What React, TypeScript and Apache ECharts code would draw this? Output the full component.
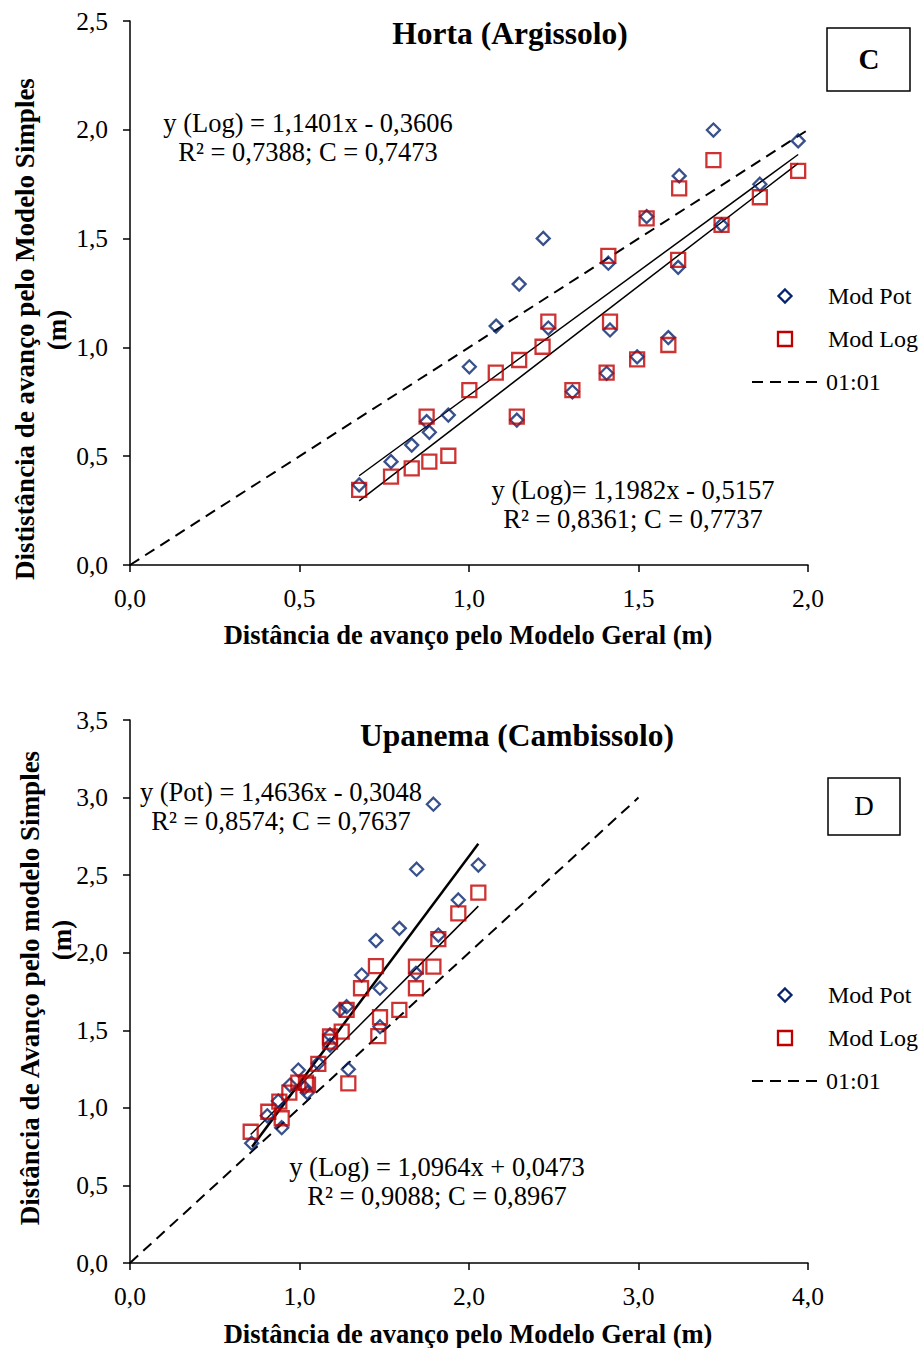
import React, { useEffect, useRef } from "react";
import * as echarts from "echarts";

// ---------- Top chart: Horta (Argissolo) ----------
const topPotX = [0.676, 0.770, 0.831, 0.875, 0.883, 0.939, 1.001, 1.080, 1.148, 1.219, 1.234, 1.141, 1.305, 1.406, 1.411, 1.416, 1.496, 1.524, 1.588, 1.617, 1.620, 1.721, 1.745, 1.858, 1.971];
const topPotY = [0.368, 0.475, 0.551, 0.659, 0.610, 0.689, 0.911, 1.098, 1.291, 1.501, 1.089, 0.666, 0.796, 0.881, 1.387, 1.080, 0.957, 1.601, 1.045, 1.368, 1.788, 1.999, 1.563, 1.750, 1.949];
const topLogX = [0.676, 0.770, 0.831, 0.883, 0.875, 0.939, 1.001, 1.079, 1.141, 1.148, 1.217, 1.234, 1.305, 1.406, 1.411, 1.416, 1.496, 1.524, 1.588, 1.617, 1.620, 1.721, 1.745, 1.858, 1.971];
const topLogY = [0.345, 0.406, 0.444, 0.475, 0.682, 0.502, 0.804, 0.884, 0.682, 0.942, 1.003, 1.118, 0.804, 0.884, 1.421, 1.118, 0.945, 1.593, 1.011, 1.402, 1.731, 1.861, 1.563, 1.690, 1.811];
const topFitA = [1.1401, 1.1982];
const topFitB = [-0.3606, -0.5157];
const topFitRange = [0.676, 1.971];
const topOneToOne = [0, 2];

// ---------- Bottom chart: Upanema (Cambissolo) ----------
const botPotX = [0.718, 0.810, 0.875, 0.895, 0.944, 0.993, 1.046, 1.030, 1.111, 1.180, 1.180, 1.239, 1.278, 1.288, 1.367, 1.451, 1.475, 1.475, 1.589, 1.687, 1.691, 1.790, 1.819, 1.937, 2.055];
const botPotY = [0.772, 0.949, 1.044, 0.872, 1.147, 1.244, 1.098, 1.130, 1.287, 1.405, 1.470, 1.631, 1.652, 1.249, 1.856, 2.078, 1.771, 1.523, 2.157, 1.867, 2.538, 2.957, 2.114, 2.340, 2.565];
const botLogX = [0.712, 0.816, 0.881, 0.895, 0.940, 0.993, 1.038, 1.050, 1.111, 1.180, 1.180, 1.249, 1.288, 1.278, 1.363, 1.451, 1.465, 1.475, 1.589, 1.687, 1.687, 1.790, 1.819, 1.937, 2.055];
const botLogY = [0.846, 0.975, 1.040, 0.933, 1.098, 1.162, 1.162, 1.150, 1.283, 1.427, 1.460, 1.491, 1.158, 1.631, 1.771, 1.914, 1.463, 1.584, 1.631, 1.910, 1.771, 1.910, 2.087, 2.254, 2.387];
const botFitA = [1.4636, 1.0964];
const botFitB = [-0.3048, 0.0473];
const botFitStart = [0.72, 0.712];
const botFitEnd = [2.055, 2.055];
const botOneToOne = [0, 3];

const SERIF = "'Liberation Serif', 'Times New Roman', serif";
const NAVY = "#06246e";
const RED = "#c00000";

const fmt = (v: number) => v.toFixed(1).replace(".", ",");
const zip = (xs: number[], ys: number[]) => xs.map((x, i) => [x, ys[i]]);
const fitLine = (a: number, b: number, x0: number, x1: number) => [
  [x0, a * x0 + b],
  [x1, a * x1 + b],
];

function xAxisCfg(grid: number, max: number, interval: number) {
  return {
    type: "value",
    gridIndex: grid,
    min: 0,
    max,
    interval,
    axisLine: { show: true, onZero: false, lineStyle: { color: "#000", width: 1.5 } },
    axisTick: { show: true, length: 7, lineStyle: { color: "#000", width: 1.5 } },
    axisLabel: { formatter: fmt, color: "#000", fontFamily: SERIF, fontSize: 25.5, margin: 20 },
    splitLine: { show: false },
  };
}
function yAxisCfg(grid: number, max: number, interval: number) {
  return {
    type: "value",
    gridIndex: grid,
    min: 0,
    max,
    interval,
    axisLine: { show: true, onZero: false, lineStyle: { color: "#000", width: 1.5 } },
    axisTick: { show: true, length: 7, lineStyle: { color: "#000", width: 1.5 } },
    axisLabel: { formatter: fmt, color: "#000", fontFamily: SERIF, fontSize: 25.5, margin: 22 },
    splitLine: { show: false },
  };
}

function scatter(data: number[][], idx: number, kind: "pot" | "log") {
  return {
    type: "scatter",
    xAxisIndex: idx,
    yAxisIndex: idx,
    data,
    symbol: kind === "pot" ? "diamond" : "rect",
    symbolSize: kind === "pot" ? 13 : 14,
    itemStyle: {
      color: "rgba(0,0,0,0)",
      borderColor: kind === "pot" ? NAVY : RED,
      borderWidth: 2.3,
    },
    z: 3,
  };
}
function line(data: number[][], idx: number, dashed: boolean, width = 1.5) {
  return {
    type: "line",
    xAxisIndex: idx,
    yAxisIndex: idx,
    data,
    showSymbol: false,
    symbol: "none",
    lineStyle: { color: "#000", width, type: dashed ? [11, 7] : "solid" },
    z: 2,
  };
}

function text(x: number, y: number, t: string, size: number, bold = false, align = "center", rotation = 0) {
  return {
    type: "text",
    x,
    y,
    rotation,
    style: {
      text: t,
      font: `${bold ? "bold " : ""}${size}px ${SERIF}`,
      fill: "#000",
      textAlign: align,
      textVerticalAlign: "middle",
    },
    z: 10,
  };
}

function legend(x: number, y: number) {
  return [
    {
      type: "polygon",
      shape: { points: [[x, y - 6.5], [x + 6.5, y], [x, y + 6.5], [x - 6.5, y]] },
      style: { fill: "none", stroke: NAVY, lineWidth: 2.3 },
    },
    text(x + 43, y, "Mod Pot", 24, false, "left"),
    {
      type: "rect",
      shape: { x: x - 7, y: y + 43 - 7, width: 14, height: 14 },
      style: { fill: "none", stroke: RED, lineWidth: 2.3 },
    },
    text(x + 43, y + 43, "Mod Log", 24, false, "left"),
    {
      type: "line",
      shape: { x1: x - 33, y1: y + 86, x2: x + 33, y2: y + 86 },
      style: { stroke: "#000", lineWidth: 2, lineDash: [11, 7] },
    },
    text(x + 41, y + 86, "01:01", 24, false, "left"),
  ];
}

export default function App() {
  const ref = useRef<HTMLDivElement>(null);
  useEffect(() => {
    if (!ref.current) return;
    const chart = echarts.init(ref.current, undefined, { renderer: "svg" });
    const option = {
      animation: false,
      backgroundColor: "#fff",
      grid: [
        { left: 130, top: 21, width: 678, height: 544 },
        { left: 130, top: 720, width: 678, height: 543 },
      ],
      xAxis: [xAxisCfg(0, 2, 0.5), xAxisCfg(1, 4, 1)],
      yAxis: [yAxisCfg(0, 2.5, 0.5), yAxisCfg(1, 3.5, 0.5)],
      series: [
        line(zip(topOneToOne, topOneToOne), 0, true, 2),
        line(fitLine(topFitA[0], topFitB[0], topFitRange[0], topFitRange[1]), 0, false),
        line(fitLine(topFitA[1], topFitB[1], topFitRange[0], topFitRange[1]), 0, false),
        scatter(zip(topPotX, topPotY), 0, "pot"),
        scatter(zip(topLogX, topLogY), 0, "log"),
        line(zip(botOneToOne, botOneToOne), 1, true, 2),
        line(fitLine(botFitA[0], botFitB[0], botFitStart[0], botFitEnd[0]), 1, false, 2.5),
        line(fitLine(botFitA[1], botFitB[1], botFitStart[1], botFitEnd[1]), 1, false),
        scatter(zip(botPotX, botPotY), 1, "pot"),
        scatter(zip(botLogX, botLogY), 1, "log"),
      ],
      graphic: [
        // top chart
        text(510, 33, "Horta (Argissolo)", 31.5, true),
        { type: "rect", shape: { x: 827, y: 28, width: 83, height: 63 }, style: { fill: "#fff", stroke: "#000", lineWidth: 1.5 } },
        text(869, 59, "C", 29, true),
        text(308, 123, "y (Log) = 1,1401x - 0,3606", 26.5),
        text(308, 152, "R² = 0,7388; C = 0,7473", 26.5),
        text(633, 490, "y (Log)= 1,1982x - 0,5157", 26.5),
        text(633, 519, "R² = 0,8361; C = 0,7737", 26.5),
        text(468, 635, "Distância de avanço pelo Modelo Geral (m)", 26.5, true),
        text(25, 329, "Dististância de avanço pelo Modelo Simples", 27, true, "center", Math.PI / 2),
        text(57, 330, "(m)", 27, true, "center", Math.PI / 2),
        ...legend(785, 296),
        // bottom chart
        text(517, 735, "Upanema (Cambissolo)", 31.5, true),
        { type: "rect", shape: { x: 828, y: 778, width: 72, height: 57 }, style: { fill: "#fff", stroke: "#000", lineWidth: 1.5 } },
        text(864, 806, "D", 27),
        text(281, 792, "y (Pot) = 1,4636x - 0,3048", 26.5),
        text(281, 821, "R² = 0,8574; C = 0,7637", 26.5),
        text(437, 1167, "y (Log) = 1,0964x + 0,0473", 26.5),
        text(437, 1196, "R² = 0,9088; C = 0,8967", 26.5),
        text(468, 1334, "Distância de avanço pelo Modelo Geral (m)", 26.5, true),
        text(30, 988, "Distância de Avanço pelo modelo Simples", 27, true, "center", Math.PI / 2),
        text(62, 940, "(m)", 27, true, "center", Math.PI / 2),
        ...legend(785, 995),
      ],
    };
    chart.setOption(option as any);
    return () => chart.dispose();
  }, []);
  return (
    <div
      ref={ref}
      style={{ position: "absolute", left: 0, top: 0, width: 922, height: 1348, background: "#fff" }}
    />
  );
}
